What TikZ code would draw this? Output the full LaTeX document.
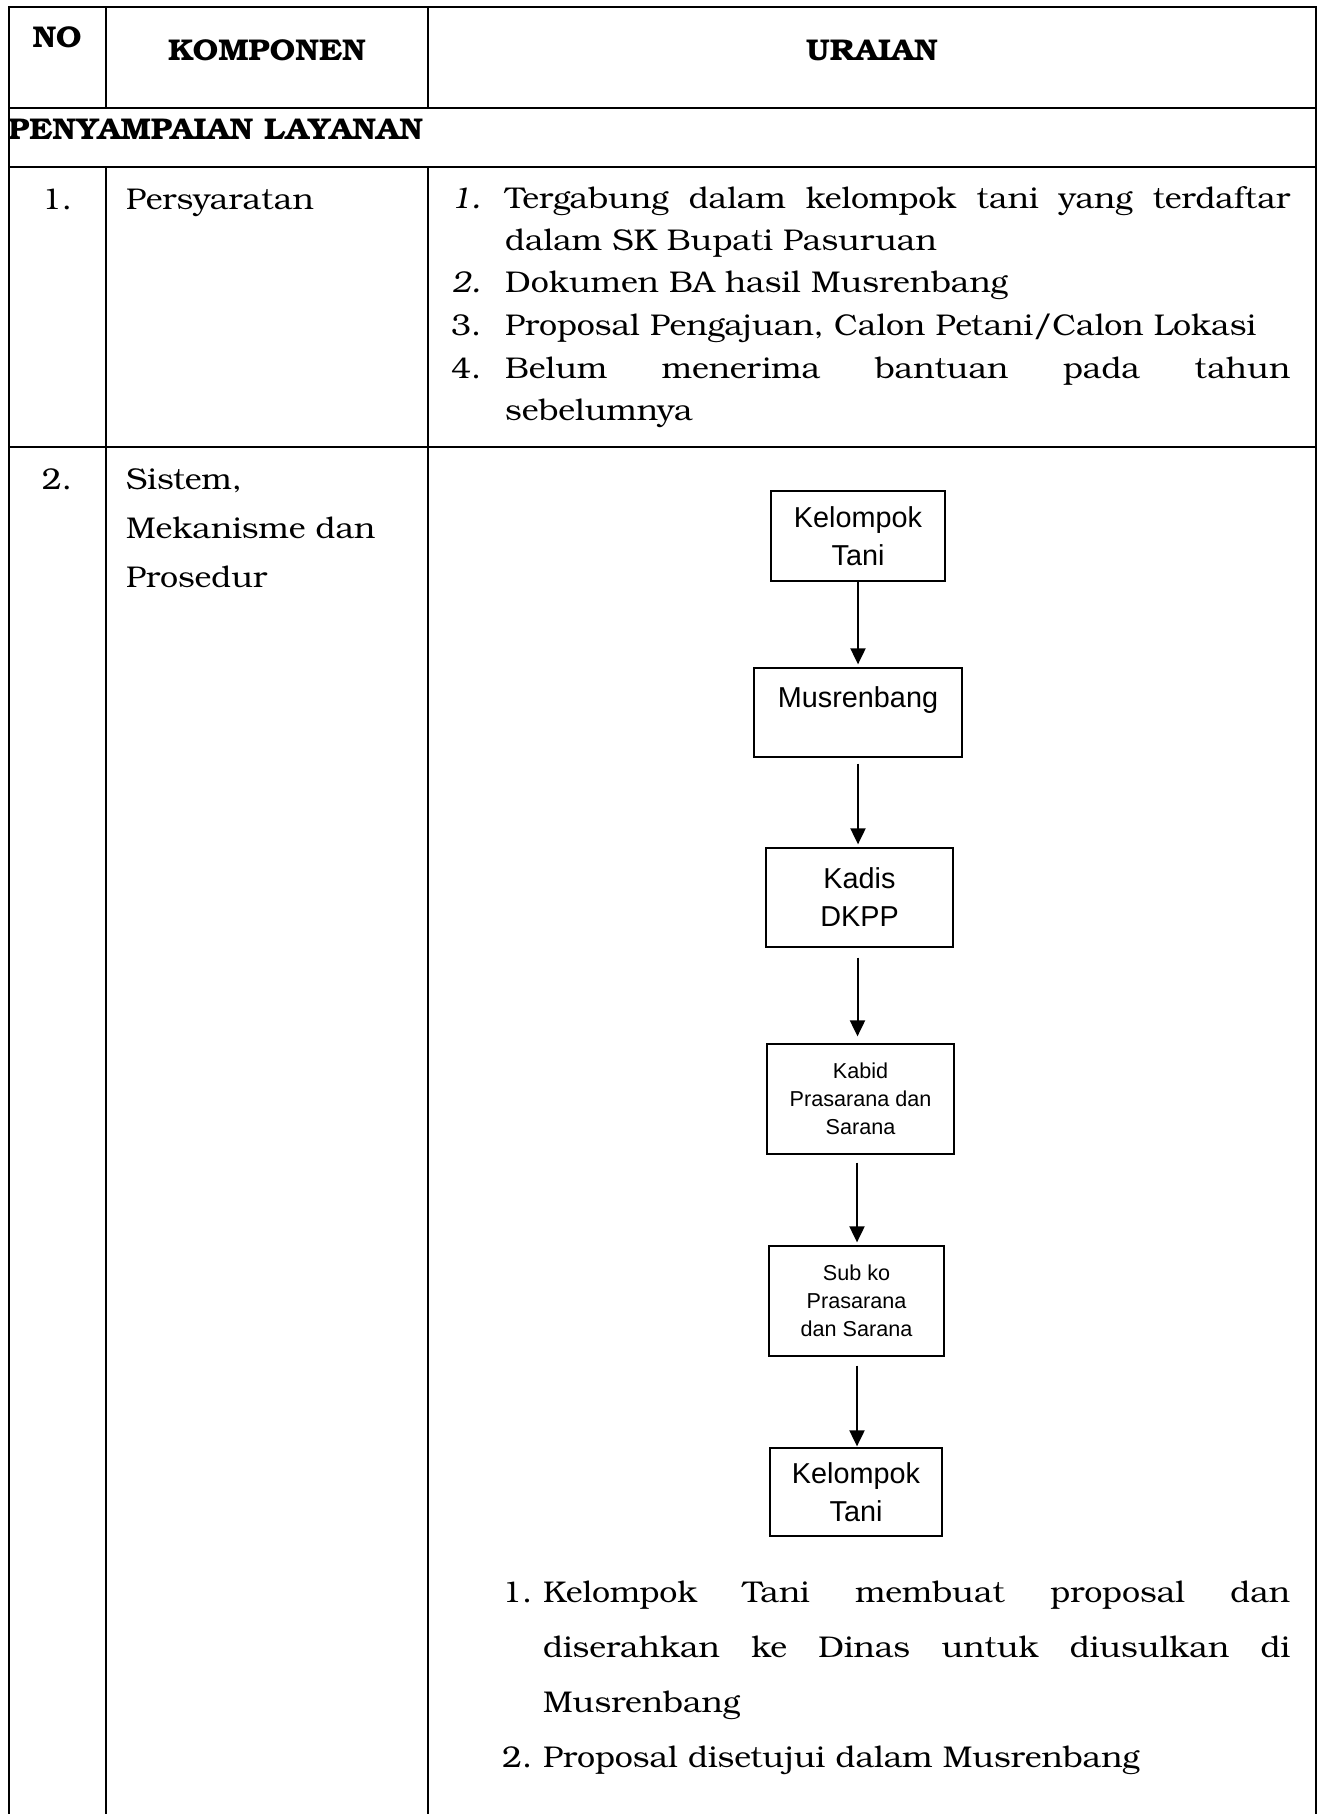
\documentclass[tikz,border=0pt]{standalone}
\usepackage{fontspec}
\setmainfont{TeX Gyre Bonum}[FakeStretch=1.07]
\newfontfamily\arialf{Liberation Sans}
\usetikzlibrary{arrows.meta}
\begin{document}
\begin{tikzpicture}[x=1pt,y=-1pt,
  rule/.style={line width=2.4pt, line cap=rect},
  body/.style={inner sep=0pt, anchor=base west, font=\fontsize{30}{43}\selectfont},
  bodyc/.style={inner sep=0pt, anchor=base, font=\fontsize{30}{43}\selectfont},
  head/.style={inner sep=0pt, anchor=base, font=\bfseries\fontsize{30}{43}\selectfont},
  flowbig/.style={draw, line width=1.3pt, inner sep=0pt, align=center, font=\arialf\fontsize{28.8}{38}\selectfont},
  flowsmall/.style={draw, line width=1.3pt, inner sep=0pt, align=center, font=\arialf\fontsize{21.6}{28}\selectfont},
  flow/.style={line width=2pt, -{Triangle[width=15pt,length=16pt]}},
]
\useasboundingbox[fill=white] (0,0) rectangle (1319,1814);
% table rules
\draw[rule] (9,1814) -- (9,7) -- (1316,7) -- (1316,1814);
\draw[rule] (106,7) -- (106,108);
\draw[rule] (428,7) -- (428,108);
\draw[rule] (9,108) -- (1316,108);
\draw[rule] (9,167) -- (1316,167);
\draw[rule] (106,167) -- (106,1814);
\draw[rule] (428,167) -- (428,1814);
\draw[rule] (9,447) -- (1316,447);
% header
\node[head] (hno) at (57,48) {NO};
\node[head] (hkomp) at (267,61) {KOMPONEN};
\node[head] (hura) at (872,61) {URAIAN};
\node[head, anchor=base west] (sec) at (8,140) {PENYAMPAIAN LAYANAN};
% row 1
\node[bodyc] (n1) at (57,209) {1.};
\node[body] (k1) at (126,209) {Persyaratan};
\node[body] (r1n1) at (451,208) {\itshape 1.};
\node[body] (r1l1) at (505,208) {\makebox[785pt][s]{Tergabung dalam kelompok tani yang terdaftar}};
\node[body] (r1l2) at (505,250) {dalam SK Bupati Pasuruan};
\node[body] (r1n2) at (451,292) {\itshape 2.};
\node[body] (r1l3) at (505,292) {Dokumen BA hasil Musrenbang};
\node[body] (r1n3) at (451,335) {3.};
\node[body] (r1l4) at (505,335) {Proposal Pengajuan, Calon Petani/Calon Lokasi};
\node[body] (r1n4) at (451,378) {4.};
\node[body] (r1l5) at (505,378) {\makebox[785pt][s]{Belum menerima bantuan pada tahun}};
\node[body] (r1l6) at (505,420) {sebelumnya};
% row 2
\node[bodyc] (n2) at (57,489) {2.};
\node[body] (k2a) at (126,489) {Sistem,};
\node[body] (k2b) at (126,538) {Mekanisme dan};
\node[body] (k2c) at (126,587) {Prosedur};
% flow chart
\node[flowbig, minimum width=174pt, minimum height=90pt] (kt1) at (858,536) {Kelompok\\Tani};
\node[flowbig, minimum width=208pt, minimum height=89pt] (mus) at (858,712.5) {};
\node[flowbig, draw=none, anchor=base] (mustxt) at (858,707) {Musrenbang};
\node[flowbig, minimum width=187pt, minimum height=99pt] (kadis) at (859.5,897.5) {Kadis\\DKPP};
\node[flowsmall, minimum width=187pt, minimum height=110pt] (kabid) at (860.5,1099) {Kabid\\Prasarana dan\\Sarana};
\node[flowsmall, minimum width=175pt, minimum height=110pt] (subko) at (856.5,1301) {Sub ko\\Prasarana\\dan Sarana};
\node[flowbig, minimum width=172pt, minimum height=88pt] (kt2) at (856,1492) {Kelompok\\Tani};
\draw[flow, shorten >=3pt] (kt1.south) -- (kt1.south |- mus.north);
\draw[flow, shorten <=6pt, shorten >=3pt] (mus.south) -- (mus.south |- kadis.north);
\draw[flow, shorten <=10pt, shorten >=7pt] ([xshift=-2pt]kadis.south) -- ([xshift=-2pt]kadis.south |- kabid.north);
\draw[flow, shorten <=8pt, shorten >=3pt] ([xshift=-3.5pt]kabid.south) -- ([xshift=-3.5pt]kabid.south |- subko.north);
\draw[flow, shorten <=9pt, shorten >=1pt] ([xshift=0.5pt]subko.south) -- ([xshift=0.5pt]subko.south |- kt2.north);
% bottom list
\node[body] (b1n) at (502,1602) {1.};
\node[body] (b1a) at (543,1602) {\makebox[747pt][s]{Kelompok Tani membuat proposal dan}};
\node[body] (b1b) at (543,1657) {\makebox[747pt][s]{diserahkan ke Dinas untuk diusulkan di}};
\node[body] (b1c) at (543,1712) {Musrenbang};
\node[body] (b2n) at (502,1767) {2.};
\node[body] (b2a) at (543,1767) {Proposal disetujui dalam Musrenbang};
\end{tikzpicture}
\end{document}
